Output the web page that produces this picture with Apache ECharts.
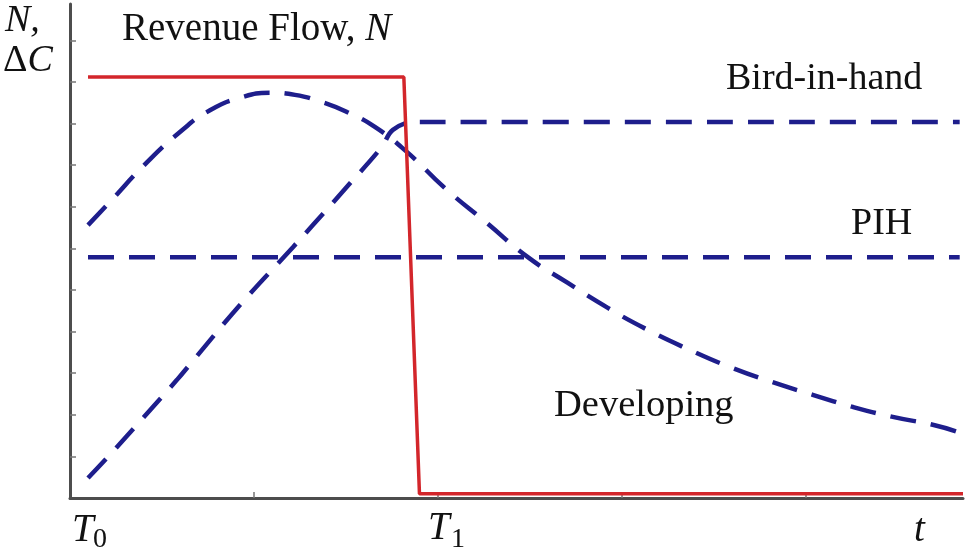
<!DOCTYPE html>
<html>
<head>
<meta charset="utf-8">
<script src="https://cdn.jsdelivr.net/npm/echarts@6/dist/echarts.min.js"></script>
<style>html,body{margin:0;padding:0;background:#fff}#c{width:966px;height:557px}</style>
</head>
<body>
<div id="c"></div>
<script>
// Data (t in axis units, value in axis units)
const revenueX = [0.196, 3.63, 3.80, 9.71];
const revenueY = [10.12, 10.12, 0.10, 0.10];

const pihX = [0.196, 9.674];
const pihY = [5.79, 5.79];

const birdX = [0.196, 0.413, 0.793, 1.163, 1.326, 1.848, 2.424, 2.641, 3.011, 3.391, 3.511, 3.750, 3.946, 9.674];
const birdY = [0.48, 0.99, 1.92, 2.84, 3.27, 4.64, 6.03, 6.56, 7.48, 8.44, 8.85, 9.04, 9.04, 9.04];

const devX = [0.196, 0.435, 0.815, 1.228, 1.522, 1.848, 2.174, 2.446, 2.739, 3.011, 3.315, 3.663, 4.076, 4.533, 4.978, 5.413, 5.848, 6.283, 6.739, 7.174, 7.630, 8.076, 8.511, 8.946, 9.402, 9.652];
const devY = [6.56, 7.12, 8.02, 8.86, 9.32, 9.62, 9.74, 9.69, 9.52, 9.28, 8.92, 8.32, 7.45, 6.61, 5.79, 5.17, 4.57, 4.04, 3.56, 3.15, 2.79, 2.48, 2.19, 1.95, 1.75, 1.59];

const xTicks = [2, 4, 6, 8];
const yTicks = [1, 2, 3, 4, 5, 6, 7, 8, 9, 10, 11];

const zip = (xs, ys) => xs.map((x, i) => [x, ys[i]]);

const SERIF = '"Liberation Serif", "DejaVu Serif", serif';
const BLUE = '#1e1e8c';
const RED = '#d3262b';

const chart = echarts.init(document.getElementById('c'));
const dashed = { color: BLUE, width: 4.5, type: [26, 15], cap: 'butt' };

chart.setOption({
  animation: false,
  backgroundColor: '#fff',
  grid: { left: 70, right: 3, top: 4, bottom: 59, containLabel: false },
  xAxis: {
    type: 'value', min: 0, max: 9.71,
    axisLine: { show: true, onZero: false, lineStyle: { color: '#4d4d4d', width: 3 } },
    axisTick: { show: true, inside: true, length: 6, customValues: xTicks, lineStyle: { color: '#777', width: 1.5 } },
    axisLabel: { show: false },
    splitLine: { show: false }
  },
  yAxis: {
    type: 'value', min: 0, max: 11.875,
    axisLine: { show: true, onZero: false, lineStyle: { color: '#4d4d4d', width: 3 } },
    axisTick: { show: true, inside: true, length: 6, customValues: yTicks, lineStyle: { color: '#777', width: 1.5 } },
    axisLabel: { show: false },
    splitLine: { show: false }
  },
  series: [
    { name: 'PIH', type: 'line', data: zip(pihX, pihY), symbol: 'none', lineStyle: dashed, z: 2 },
    { name: 'Bird-in-hand', type: 'line', data: zip(birdX, birdY), symbol: 'none', smooth: 0.4, lineStyle: dashed, z: 2 },
    { name: 'Developing', type: 'line', data: zip(devX, devY), symbol: 'none', smooth: 0.5, lineStyle: dashed, z: 2 },
    { name: 'Revenue Flow', type: 'line', data: zip(revenueX, revenueY), symbol: 'none', lineStyle: { color: RED, width: 3.5 }, z: 3 }
  ],
  graphic: [
    { type: 'text', left: 5, top: 2, style: { text: 'N,', font: 'italic 38px ' + SERIF, fill: '#111' } },
    { type: 'text', left: 3, top: 42, style: { text: '{d|Δ}{c|C}', rich: { d: { font: '38px ' + SERIF, fill: '#111' }, c: { font: 'italic 38px ' + SERIF, fill: '#111' } } } },
    { type: 'text', left: 122, top: 10, style: { text: '{a|Revenue Flow, }{b|N}', rich: { a: { font: '39px ' + SERIF, fill: '#111' }, b: { font: 'italic 39px ' + SERIF, fill: '#111' } } } },
    { type: 'text', left: 726, top: 60, style: { text: 'Bird-in-hand', font: '38px ' + SERIF, fill: '#111' } },
    { type: 'text', left: 851, top: 205, style: { text: 'PIH', font: '38px ' + SERIF, fill: '#111' } },
    { type: 'text', left: 554, top: 386, style: { text: 'Developing', font: '38.5px ' + SERIF, fill: '#111' } },
    { type: 'text', left: 72, top: 511, style: { text: 'T', font: 'italic 39px ' + SERIF, fill: '#111' } },
    { type: 'text', left: 93, top: 526, style: { text: '0', font: '28px ' + SERIF, fill: '#111' } },
    { type: 'text', left: 428, top: 509, style: { text: 'T', font: 'italic 39px ' + SERIF, fill: '#111' } },
    { type: 'text', left: 451, top: 526, style: { text: '1', font: '28px ' + SERIF, fill: '#111' } },
    { type: 'text', left: 914, top: 511, style: { text: 't', font: 'italic 39px ' + SERIF, fill: '#111' } }
  ]
});
</script>
</body>
</html>
